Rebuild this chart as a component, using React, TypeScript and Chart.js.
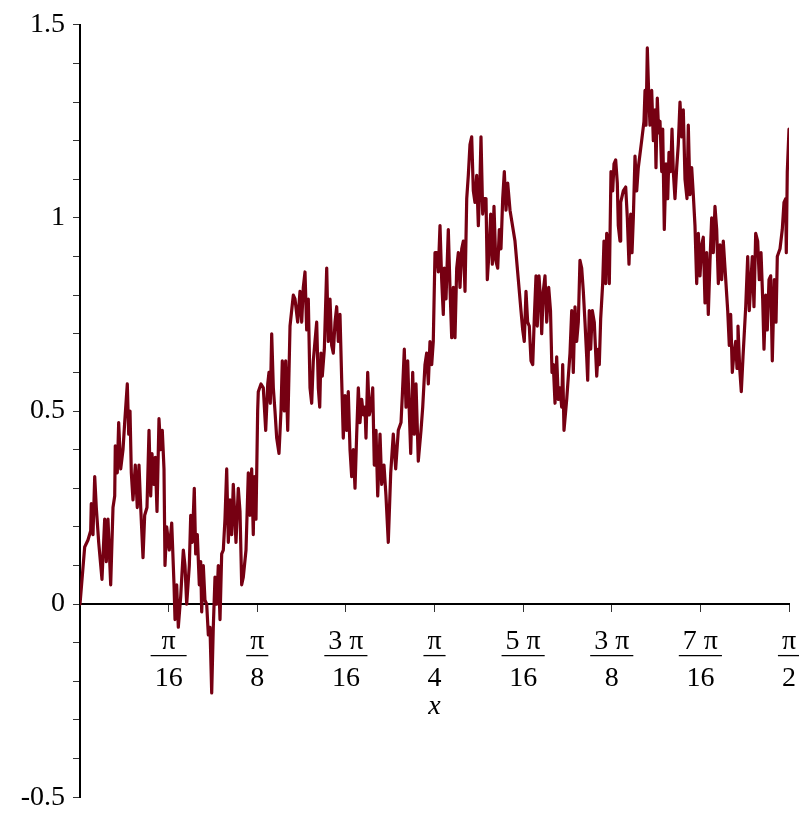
import React, { useEffect, useRef } from "react";
import { Chart, registerables } from "chart.js";

Chart.register(...registerables);

// x values (radians)
const xs: number[] = [
  0, 0.0104, 0.0177, 0.0237, 0.025, 0.0288, 0.0326, 0.0361, 0.0414, 0.0487,
  0.0547, 0.0583, 0.062, 0.068, 0.0731, 0.0769, 0.0782, 0.0826, 0.0857, 0.0902,
  0.0953, 0.099, 0.1048, 0.1079, 0.1108, 0.1137, 0.1174, 0.1225, 0.1269, 0.1307,
  0.1345, 0.1396, 0.1433, 0.1484, 0.1529, 0.1566, 0.1595, 0.1639, 0.1668, 0.1706,
  0.175, 0.1788, 0.1823, 0.1861, 0.1883, 0.1921, 0.1978, 0.2032, 0.2083, 0.2105,
  0.2142, 0.2178, 0.2231, 0.2289, 0.2326, 0.2364, 0.2422, 0.2453, 0.2488, 0.2532,
  0.2563, 0.2599, 0.2643, 0.2674, 0.2696, 0.2732, 0.2769, 0.2807, 0.2843, 0.288,
  0.2918, 0.2953, 0.2991, 0.3029, 0.3064, 0.3102, 0.3139, 0.3175, 0.3212, 0.325,
  0.3286, 0.3323, 0.3361, 0.3396, 0.3456, 0.3507, 0.3545, 0.3582, 0.3618, 0.3678,
  0.3729, 0.3766, 0.3804, 0.3839, 0.3862, 0.3899, 0.3936, 0.395, 0.401, 0.4061,
  0.4114, 0.4159, 0.4187, 0.4216, 0.4247, 0.4283, 0.432, 0.4358, 0.4409, 0.4453,
  0.4482, 0.4526, 0.4557, 0.4602, 0.4653, 0.4726, 0.4763, 0.4823, 0.4874, 0.4912,
  0.4947, 0.4985, 0.5022, 0.5058, 0.5096, 0.5133, 0.5169, 0.5206, 0.5244, 0.528,
  0.5311, 0.5339, 0.5368, 0.5413, 0.5466, 0.5501, 0.5539, 0.5576, 0.5612, 0.565,
  0.5687, 0.5723, 0.576, 0.5798, 0.5833, 0.5871, 0.5909, 0.5944, 0.5982, 0.6019,
  0.6055, 0.6093, 0.613, 0.6166, 0.6203, 0.6241, 0.6277, 0.6314, 0.6336, 0.6374,
  0.6409, 0.6447, 0.6485, 0.652, 0.6558, 0.6596, 0.6647, 0.6684, 0.6735, 0.6779,
  0.683, 0.6884, 0.6941, 0.6994, 0.7052, 0.7112, 0.7141, 0.7185, 0.7223, 0.726,
  0.7289, 0.7327, 0.7371, 0.7406, 0.7444, 0.7495, 0.7555, 0.7593, 0.7643, 0.7681,
  0.7717, 0.7754, 0.7792, 0.7827, 0.7865, 0.7903, 0.7938, 0.7976, 0.8013, 0.8049,
  0.8071, 0.8109, 0.816, 0.8197, 0.8235, 0.8271, 0.8308, 0.8346, 0.8382, 0.8419,
  0.8457, 0.8493, 0.853, 0.8568, 0.8603, 0.864, 0.8678, 0.8714, 0.8751, 0.8789,
  0.8825, 0.8862, 0.8884, 0.8922, 0.8957, 0.8995, 0.9024, 0.9061, 0.9099, 0.9135,
  0.9172, 0.921, 0.9254, 0.929, 0.9327, 0.9365, 0.9401, 0.9438, 0.9476, 0.9527,
  0.9637, 0.9711, 0.977, 0.9808, 0.9843, 0.9881, 0.9918, 0.9954, 0.9992, 1.003,
  1.0065, 1.0103, 1.0131, 1.0169, 1.0207, 1.0229, 1.0264, 1.0302, 1.034, 1.0384,
  1.0424, 1.0457, 1.0486, 1.0524, 1.0561, 1.0597, 1.0634, 1.0672, 1.0694, 1.0723,
  1.0783, 1.0856, 1.0894, 1.0929, 1.0967, 1.1004, 1.104, 1.1077, 1.1115, 1.1151,
  1.1188, 1.1226, 1.1248, 1.1283, 1.1314, 1.135, 1.1394, 1.1448, 1.1483, 1.1505,
  1.1536, 1.158, 1.1609, 1.1647, 1.1669, 1.1705, 1.1727, 1.1764, 1.1802, 1.1831,
  1.1868, 1.1904, 1.1926, 1.1964, 1.1979, 1.2037, 1.209, 1.2126, 1.2163, 1.2201,
  1.223, 1.2259, 1.2296, 1.2334, 1.2369, 1.2444, 1.2495, 1.2518, 1.254, 1.2569,
  1.26, 1.2628, 1.2666, 1.2702, 1.2739, 1.2761, 1.279, 1.2821, 1.285, 1.2888,
  1.291, 1.2945, 1.2983, 1.3021, 1.3049, 1.3087, 1.3116, 1.3145, 1.3182, 1.322,
  1.3255, 1.3293, 1.3331, 1.3366, 1.3404, 1.3448, 1.3477, 1.3515, 1.3552, 1.3588,
  1.3625, 1.3663, 1.3699, 1.3736, 1.3774, 1.3809, 1.3847, 1.3884, 1.392, 1.3958,
  1.3995, 1.4031, 1.4068, 1.4106, 1.4142, 1.4179, 1.4217, 1.4252, 1.429, 1.435,
  1.4385, 1.4416, 1.4452, 1.4489, 1.4527, 1.4556, 1.4578, 1.4616, 1.4651, 1.4689,
  1.4749, 1.4793, 1.4828, 1.4866, 1.4895, 1.4932, 1.497, 1.5014, 1.505, 1.5088,
  1.5125, 1.5154, 1.5192, 1.5227, 1.5265, 1.5302, 1.5338, 1.5382, 1.542, 1.5449,
  1.5509, 1.5559, 1.5597, 1.5635, 1.5648, 1.567, 1.5708,
];

// y values
const ys: number[] = [
  0, 0.148, 0.166, 0.19, 0.26, 0.18, 0.33, 0.25, 0.16, 0.064,
  0.22, 0.11, 0.22, 0.05, 0.25, 0.28, 0.41, 0.34, 0.47, 0.35,
  0.4, 0.47, 0.57, 0.44, 0.5, 0.34, 0.27, 0.36, 0.25, 0.36,
  0.25, 0.12, 0.23, 0.25, 0.45, 0.28, 0.39, 0.31, 0.38, 0.24,
  0.48, 0.4, 0.45, 0.35, 0.1, 0.2, 0.14, 0.21, 0.05, -0.04,
  0.05, -0.06, 0.02, 0.14, 0.1, 0.0, 0.1, 0.23, 0.16, 0.3,
  0.13, 0.18, 0.05, 0.11, -0.02, 0.1, 0.01, 0.0, -0.08, -0.06,
  -0.23, -0.06, 0.07, 0.0, 0.1, -0.04, 0.13, 0.14, 0.22, 0.35,
  0.16, 0.27, 0.18, 0.31, 0.16, 0.3, 0.24, 0.05, 0.07, 0.14,
  0.34, 0.23, 0.35, 0.18, 0.33, 0.22, 0.5, 0.55, 0.57, 0.56,
  0.45, 0.57, 0.6, 0.52, 0.7, 0.56, 0.5, 0.43, 0.39, 0.5,
  0.63, 0.5, 0.63, 0.45, 0.72, 0.8, 0.79, 0.73, 0.81, 0.73,
  0.82, 0.86, 0.71, 0.79, 0.56, 0.52, 0.63, 0.68, 0.73, 0.56,
  0.51, 0.65, 0.59, 0.66, 0.87, 0.68, 0.79, 0.67, 0.65, 0.73,
  0.77, 0.68, 0.75, 0.58, 0.43, 0.54, 0.45, 0.55, 0.4, 0.33,
  0.4, 0.3, 0.44, 0.56, 0.47, 0.53, 0.49, 0.51, 0.43, 0.6,
  0.49, 0.51, 0.56, 0.36, 0.45, 0.28, 0.44, 0.31, 0.36, 0.28,
  0.16, 0.34, 0.44, 0.35, 0.45, 0.47, 0.54, 0.66, 0.51, 0.63,
  0.52, 0.39, 0.6, 0.44, 0.57, 0.37, 0.45, 0.51, 0.62, 0.65,
  0.57, 0.68, 0.62, 0.68, 0.91, 0.91, 0.86, 0.98, 0.84, 0.75,
  0.87, 0.79, 0.97, 0.82, 0.69, 0.82, 0.69, 0.87, 0.91, 0.82,
  0.92, 0.94, 0.81, 1.05, 1.11, 1.19, 1.21, 1.07, 1.04, 1.11,
  0.98, 1.1, 1.21, 1.01, 1.05, 1.05, 0.84, 0.91, 1.01, 0.88,
  1.03, 0.89, 0.87, 0.97, 0.92, 1.05, 1.12, 1.02, 1.09, 1.02,
  0.94, 0.84, 0.76, 0.71, 0.68, 0.81, 0.73, 0.72, 0.63, 0.62,
  0.74, 0.85, 0.72, 0.85, 0.78, 0.7, 0.81, 0.85, 0.73, 0.82,
  0.76, 0.6, 0.62, 0.52, 0.64, 0.53, 0.56, 0.51, 0.62, 0.45,
  0.53, 0.65, 0.76, 0.6, 0.77, 0.68, 0.73, 0.89, 0.87, 0.81,
  0.73, 0.64, 0.58, 0.76, 0.66, 0.76, 0.73, 0.59, 0.66, 0.62,
  0.74, 0.83, 0.94, 0.83, 0.96, 0.93, 0.83, 1.12, 1.07, 1.14,
  1.15, 1.09, 0.98, 0.94, 1.04, 1.07, 1.08, 1.0, 0.88, 1.01,
  0.91, 1.0, 1.16, 1.07, 1.13, 1.2, 1.25, 1.33, 1.24, 1.44,
  1.32, 1.24, 1.33, 1.2, 1.28, 1.13, 1.31, 1.22, 1.25, 1.12,
  1.23, 0.97, 1.14, 1.05, 1.17, 1.12, 1.23, 1.12, 1.05, 1.13,
  1.19, 1.3, 1.21, 1.28, 1.1, 1.05, 1.24, 1.06, 1.13, 1.06,
  0.98, 0.83, 0.96, 0.85, 0.93, 0.95, 0.78, 0.91, 0.75, 0.89,
  1.0, 0.91, 1.03, 0.97, 0.83, 0.93, 0.84, 0.94, 0.87, 0.76,
  0.67, 0.75, 0.6, 0.65, 0.68, 0.61, 0.72, 0.61, 0.55, 0.64,
  0.77, 0.9, 0.76, 0.84, 0.9, 0.77, 0.96, 0.94, 0.84, 0.91,
  0.79, 0.66, 0.8, 0.71, 0.84, 0.85, 0.63, 0.84, 0.73, 0.9,
  0.92, 0.97, 1.04, 1.05, 0.91, 1.12, 1.23,
];

// axis ticks
const xTickValues: number[] = [1, 2, 3, 4, 5, 6, 7, 8].map((k) => (k * Math.PI) / 16);
const xTickNumerators: string[] = ["π", "π", "3 π", "π", "5 π", "3 π", "7 π", "π"];
const xTickDenominators: string[] = ["16", "8", "16", "4", "16", "8", "16", "2"];
const yTickValues: number[] = [
  -0.5, -0.4, -0.3, -0.2, -0.1, 0, 0.1, 0.2, 0.3, 0.4, 0.5, 0.6, 0.7, 0.8, 0.9, 1, 1.1,
  1.2, 1.3, 1.4, 1.5,
];
const yTickLabels: Record<string, string> = {
  "-0.5": "-0.5",
  "0": "0",
  "0.5": "0.5",
  "1": "1",
  "1.5": "1.5",
};
const xAxisTitle = "x";

const LINE_COLOR = "#760012";
const FONT = '"Liberation Serif", "Times New Roman", serif';

const fractionLabels = {
  id: "fractionLabels",
  afterDraw(chart: any) {
    const { ctx } = chart;
    const xs_ = chart.scales.x;
    const ys_ = chart.scales.y;
    const y0 = ys_.getPixelForValue(0);
    ctx.save();
    ctx.fillStyle = "#000";
    ctx.strokeStyle = "#000";
    ctx.font = `28px ${FONT}`;
    ctx.textAlign = "center";
    ctx.textBaseline = "alphabetic";
    xTickValues.forEach((v, i) => {
      const px = xs_.getPixelForValue(v);
      const num = xTickNumerators[i];
      const den = xTickDenominators[i];
      const w = Math.max(ctx.measureText(num).width, ctx.measureText(den).width) + 8;
      ctx.fillText(num, px, y0 + 45);
      ctx.fillText(den, px, y0 + 82);
      ctx.lineWidth = 1.3;
      ctx.beginPath();
      ctx.moveTo(px - w / 2, y0 + 51.5);
      ctx.lineTo(px + w / 2, y0 + 51.5);
      ctx.stroke();
    });
    ctx.font = `italic 28px ${FONT}`;
    const cx = (chart.chartArea.left + chart.chartArea.right) / 2;
    ctx.fillText(xAxisTitle, cx, y0 + 110);
    ctx.restore();
  },
};

export default function App() {
  const canvasRef = useRef<HTMLCanvasElement | null>(null);

  useEffect(() => {
    if (!canvasRef.current) return;
    const chart = new Chart(canvasRef.current, {
      type: "line",
      data: {
        datasets: [
          {
            data: xs.map((x, i) => ({ x, y: ys[i] })),
            borderColor: LINE_COLOR,
            borderWidth: 3.2,
            pointRadius: 0,
            tension: 0,
            fill: false,
            borderJoinStyle: "round",
            borderCapStyle: "round",
          } as any,
        ],
      },
      options: {
        responsive: false,
        animation: false,
        events: [],
        layout: { padding: { top: 19, right: 10, bottom: 18, left: 0 } },
        plugins: { legend: { display: false }, tooltip: { enabled: false } },
        scales: {
          x: {
            type: "linear",
            min: 0,
            max: Math.PI / 2,
            position: { y: 0 } as any,
            afterBuildTicks: (s: any) => {
              s.ticks = xTickValues.map((value) => ({ value }));
            },
            afterFit: (s: any) => {
              s.height = 0;
            },
            ticks: { display: false },
            grid: {
              display: true,
              drawOnChartArea: false,
              drawTicks: true,
              tickLength: 7,
              color: "#333",
              lineWidth: 1,
            },
            border: { display: true, color: "#000", width: 2 },
          },
          y: {
            type: "linear",
            position: "left",
            min: -0.5,
            max: 1.5,
            afterBuildTicks: (s: any) => {
              s.ticks = yTickValues.map((value) => ({ value }));
            },
            afterFit: (s: any) => {
              s.width = 80;
            },
            ticks: {
              autoSkip: false,
              padding: 8,
              color: "#000",
              font: { family: FONT, size: 28 },
              callback: (v: any) => {
                const key = String(Math.round(Number(v) * 10) / 10);
                return yTickLabels[key] ?? "";
              },
            },
            grid: {
              display: true,
              drawOnChartArea: false,
              drawTicks: true,
              tickLength: 7,
              color: "#333",
              lineWidth: 1,
            },
            border: { display: true, color: "#000", width: 2 },
          },
        },
      },
      plugins: [fractionLabels],
    });
    return () => chart.destroy();
  }, []);

  return (
    <div style={{ position: "absolute", left: 0, top: 0, width: 799, height: 822 }}>
      <canvas ref={canvasRef} width={799} height={822} style={{ width: 799, height: 822 }} />
    </div>
  );
}
